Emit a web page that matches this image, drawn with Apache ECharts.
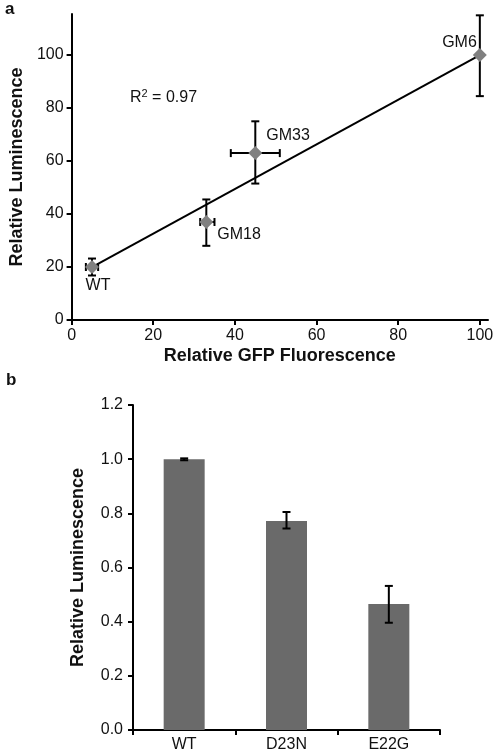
<!DOCTYPE html>
<html><head><meta charset="utf-8">
<script src="https://cdn.jsdelivr.net/npm/echarts@6/dist/echarts.min.js"></script>
<style>html,body{margin:0;padding:0;background:#fff}#c{width:499px;height:756px}</style>
</head><body><div id="c"></div>
<script>
// Panel a data
const pointNames = ['WT', 'GM18', 'GM33', 'GM6'];
const gfpX = [5, 33, 45, 100];
const lumY = [20, 37, 63, 100];
const lumErrLow = [16.8, 28, 51.5, 84.5];
const lumErrHigh = [23.2, 45.5, 75, 115];
const gfpErrLow = [3.5, 31.5, 39, 100];
const gfpErrHigh = [6.5, 35, 51, 100];
const fitX = [5, 100];
const fitY = [20, 100];
const axisATicks = [0, 20, 40, 60, 80, 100];
// Panel b data
const categories = ['WT', 'D23N', 'E22G'];
const barMeans = [1.0, 0.772, 0.465];
const barErrLow = [0.996, 0.744, 0.396];
const barErrHigh = [1.003, 0.805, 0.532];

const FONT = 'Liberation Sans, Arial, sans-serif';
const TXT = '#111111';

const labelPlace = {
  'WT':   {position: 'bottom', distance: 4, offset: [6, 0]},
  'GM18': {position: 'right', distance: 4, offset: [0, 13]},
  'GM33': {position: 'right', distance: 4, offset: [0, -17]},
  'GM6':  {position: 'left', distance: 0, offset: [4, -12]}
};

function errRender(cap) {
  return function (params, api) {
    const style = {stroke: '#000', lineWidth: 2};
    const children = [];
    const v = params.seriesName;
    if (v === 'xa') {
      const y = api.value(0);
      const lo = api.coord([api.value(1), y]);
      const hi = api.coord([api.value(2), y]);
      if (Math.abs(hi[0] - lo[0]) < 1) return {type: 'group', children: []};
      children.push({type: 'line', shape: {x1: lo[0], y1: lo[1], x2: hi[0], y2: hi[1]}, style});
      children.push({type: 'line', shape: {x1: lo[0], y1: lo[1] - cap, x2: lo[0], y2: lo[1] + cap}, style});
      children.push({type: 'line', shape: {x1: hi[0], y1: hi[1] - cap, x2: hi[0], y2: hi[1] + cap}, style});
    } else {
      const x = api.value(0);
      const lo = api.coord([x, api.value(1)]);
      const hi = api.coord([x, api.value(2)]);
      children.push({type: 'line', shape: {x1: lo[0], y1: lo[1], x2: hi[0], y2: hi[1]}, style});
      children.push({type: 'line', shape: {x1: lo[0] - cap, y1: lo[1], x2: lo[0] + cap, y2: lo[1]}, style});
      children.push({type: 'line', shape: {x1: hi[0] - cap, y1: hi[1], x2: hi[0] + cap, y2: hi[1]}, style});
    }
    return {type: 'group', children};
  };
}

const axisLine = {show: true, lineStyle: {color: '#000', width: 2}};
const axisTick = {show: true, length: 5, lineStyle: {color: '#000', width: 2}};
const axisLabel = {color: TXT, fontSize: 16, fontFamily: FONT};
const nameStyle = {color: TXT, fontSize: 18, fontWeight: 'bold', fontFamily: FONT};
const ptLabel = {show: true, color: TXT, fontSize: 16, fontFamily: FONT, opacity: 1, textBorderWidth: 0};

const chart = echarts.init(document.getElementById('c'), null, {renderer: 'canvas'});
chart.setOption({
  backgroundColor: '#fff',
  animation: false,
  grid: [
    {left: 70, top: 14, width: 418, height: 306},
    {left: 133, top: 405, width: 307, height: 325}
  ],
  xAxis: [
    {gridIndex: 0, type: 'value', min: 0, max: 102,
     name: 'Relative GFP Fluorescence', nameLocation: 'middle', nameGap: 27, nameTextStyle: nameStyle,
     axisLine, axisTick: Object.assign({customValues: axisATicks}, axisTick),
     axisLabel: Object.assign({customValues: axisATicks, margin: 8}, axisLabel),
     splitLine: {show: false}},
    {gridIndex: 1, type: 'category', data: categories,
     axisLine, axisTick: Object.assign({alignWithLabel: false}, axisTick),
     axisLabel: Object.assign({margin: 7}, axisLabel)}
  ],
  yAxis: [
    {gridIndex: 0, type: 'value', min: 0, max: 115.5,
     name: 'Relative Luminescence', nameLocation: 'middle', nameGap: 36, nameTextStyle: nameStyle,
     axisLine, axisTick: Object.assign({customValues: axisATicks}, axisTick),
     axisLabel: Object.assign({customValues: axisATicks, margin: 8}, axisLabel),
     splitLine: {show: false}},
    {gridIndex: 1, type: 'value', min: 0, max: 1.2, interval: 0.2,
     name: 'Relative Luminescence', nameLocation: 'middle', nameGap: 46, nameTextStyle: nameStyle,
     axisLine, axisTick,
     axisLabel: Object.assign({margin: 10, formatter: v => v.toFixed(1)}, axisLabel),
     splitLine: {show: false}}
  ],
  graphic: [
    {type: 'text', left: 5, top: 1, style: {text: 'a', font: 'bold 17px ' + FONT, fill: TXT}},
    {type: 'text', left: 6, top: 372, style: {text: 'b', font: 'bold 17px ' + FONT, fill: TXT}},
    {type: 'text', left: 130, top: 88, style: {
      text: '{n|R}{s|2}{n| = 0.97}',
      rich: {n: {fontSize: 16, fontFamily: FONT, fill: TXT, color: TXT},
             s: {fontSize: 11, fontFamily: FONT, verticalAlign: 'top', color: TXT, fill: TXT, padding: [0, 0, 8, 0]}}
    }}
  ],
  series: [
    {type: 'line', xAxisIndex: 0, yAxisIndex: 0, data: fitX.map((x, i) => [x, fitY[i]]),
     showSymbol: false, symbol: 'none', lineStyle: {color: '#000', width: 2}, z: 2},
    {name: 'ya', type: 'custom', xAxisIndex: 0, yAxisIndex: 0,
     data: gfpX.map((x, i) => [x, lumErrLow[i], lumErrHigh[i]]),
     renderItem: errRender(4), z: 3},
    {name: 'xa', type: 'custom', xAxisIndex: 0, yAxisIndex: 0,
     data: lumY.map((y, i) => [y, gfpErrLow[i], gfpErrHigh[i]]),
     encode: {x: [1, 2], y: 0},
     renderItem: errRender(4), z: 3},
    {type: 'scatter', xAxisIndex: 0, yAxisIndex: 0, symbol: 'diamond', symbolSize: 14,
     itemStyle: {color: '#808080', opacity: 1}, z: 4,
     label: Object.assign({formatter: p => p.name}, ptLabel),
     data: gfpX.map((x, i) => ({
       value: [x, lumY[i]], name: pointNames[i],
       label: Object.assign({}, ptLabel, labelPlace[pointNames[i]])
     }))},
    {type: 'bar', xAxisIndex: 1, yAxisIndex: 1, data: barMeans, barWidth: 41,
     itemStyle: {color: '#6a6a6a'}, z: 2},
    {name: 'yb', type: 'custom', xAxisIndex: 1, yAxisIndex: 1,
     data: categories.map((c, i) => [i, barErrLow[i], barErrHigh[i]]),
     renderItem: errRender(4), z: 3}
  ]
});
</script></body></html>
